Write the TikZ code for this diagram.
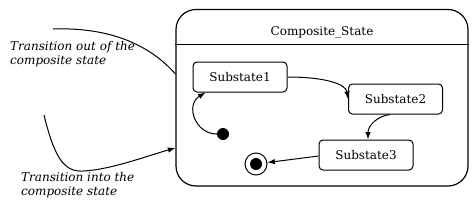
\documentclass[tikz,border=0pt]{standalone}
\usepackage{fontspec}
\setmainfont{DejaVu Serif}
\usetikzlibrary{arrows.meta}
\begin{document}
\begin{tikzpicture}[x=1pt,y=-1pt,
  every node/.style={font=\fontsize{12}{14}\selectfont},
  sub/.style={draw,line width=1pt,rounded corners=4pt,minimum width=94pt,minimum height=30pt,inner sep=0pt},
  comp/.style={draw,line width=1.2pt,rounded corners=20pt,minimum width=292pt,minimum height=176.5pt,inner sep=0pt},
  arr/.style={line width=1pt,-{Latex[length=7.5pt,width=5.5pt]}},
  wire/.style={line width=1pt},
  lbl/.style={align=left,inner sep=0pt,anchor=north west,font=\fontsize{12}{14}\selectfont\itshape}]
\useasboundingbox (0,0) rectangle (476,206);
\node[comp] (comp) at (322,97.75) {};
\draw[line width=1pt] (comp.west |- 0,44) coordinate (divl) -- (comp.east |- 0,44) coordinate (divr);
\node (title) at (322,32) {Composite\_State};
\node[sub] (s1) at (240,77) {Substate1};
\node[sub] (s2) at (395.5,99) {Substate2};
\node[sub] (s3) at (366,155) {Substate3};
\node[circle,fill,inner sep=0pt,minimum size=12pt] (init) at (223,134) {};
\node[circle,draw,line width=1pt,inner sep=0pt,minimum size=22pt] (final) at (256,164) {};
\node[circle,fill,inner sep=0pt,minimum size=12pt] (finaldot) at (256,164) {};
% internal transitions
\draw[arr] (init.west) .. controls (195,134) and (185,105) .. ([xshift=13pt]s1.south west);
\draw[arr] (s1.east) .. controls (325,77) and (346,84) .. (s2.west);
\draw[arr] ([xshift=-5.5pt]s2.south) .. controls (378,116) and (368,125) .. ([xshift=2pt]s3.north);
\draw[arr] (s3.west |- 0,156) -- (final);
% external transitions
\coordinate (outA) at (53,29);
\coordinate (outB) at (comp.west |- 0,74);
\draw[wire] (outA) .. controls (110,27) and (150,45) .. (outB);
\coordinate (inA) at (44,115);
\coordinate (inM) at (83,171);
\coordinate (inB) at (comp.west |- 0,148);
\draw[arr] (inA) .. controls (55,160) and (65,172) .. (inM) .. controls (110,170) and (150,155) .. (inB);
\node[lbl] (lout) at (10,41) {Transition out of the\\composite state};
\node[lbl] (lin) at (21,172) {Transition into the\\composite state};
\end{tikzpicture}
\end{document}
